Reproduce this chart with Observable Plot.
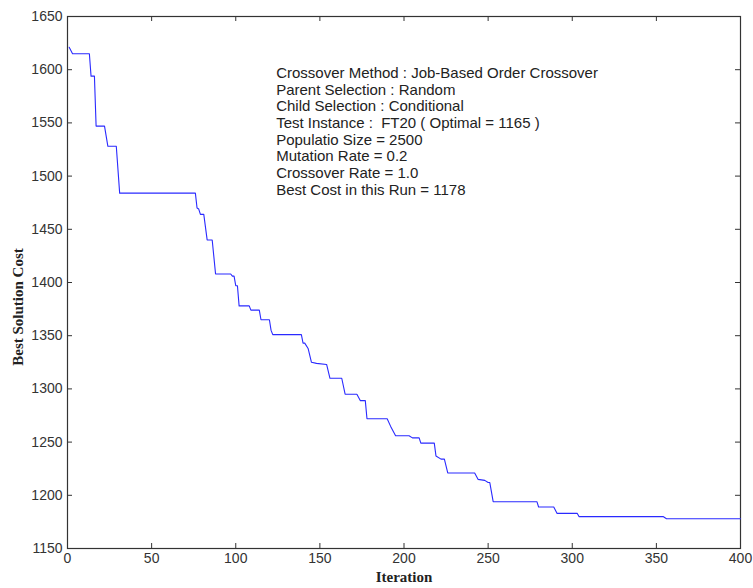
<!DOCTYPE html>
<html>
<head>
<meta charset="utf-8">
<script src="https://cdn.jsdelivr.net/npm/d3@7"></script>
<script src="https://cdn.jsdelivr.net/npm/@observablehq/plot@0.6"></script>
<style>
  html, body { margin: 0; padding: 0; background: #fff; }
  #chart svg { display: block; }
</style>
</head>
<body>
<div id="chart"></div>
<script>
// Corner points of the best-so-far cost curve (iteration, cost)
const iterations = [1, 3, 13, 14, 16, 17, 22, 24, 29, 31, 76, 77, 78, 79, 81, 83, 86, 88, 97, 98, 99, 100, 101, 102,
  108, 109, 114, 115, 120, 121, 122, 139, 140, 141, 143, 145, 148, 154, 156, 163, 165, 172, 174, 177, 178,
  190, 192, 195, 203, 205, 209, 210, 218, 219, 222, 224, 226, 242, 244, 248, 250, 251, 253, 279, 280,
  289, 291, 303, 304, 354, 356, 400];
const costs = [1621, 1615, 1615, 1594, 1594, 1547, 1547, 1528, 1528, 1484, 1484, 1470, 1469, 1464, 1464, 1440, 1440, 1408, 1408, 1406, 1406, 1397, 1397, 1378,
  1378, 1374, 1374, 1365, 1365, 1355, 1351, 1351, 1343, 1343, 1338, 1325, 1324, 1323, 1310, 1310, 1295, 1295, 1289, 1289, 1272,
  1272, 1265, 1256, 1256, 1254, 1254, 1249, 1249, 1237, 1234, 1234, 1221, 1221, 1215, 1214, 1212, 1212, 1194, 1194, 1189,
  1189, 1183, 1183, 1180, 1180, 1178, 1178];

const xTicks = [0, 50, 100, 150, 200, 250, 300, 350, 400];
const yTicks = [1150, 1200, 1250, 1300, 1350, 1400, 1450, 1500, 1550, 1600, 1650];

const annotationLines = [
  "Crossover Method : Job-Based Order Crossover",
  "Parent Selection : Random",
  "Child Selection : Conditional",
  "Test Instance :  FT20 ( Optimal = 1165 )",
  "Populatio Size = 2500",
  "Mutation Rate = 0.2",
  "Crossover Rate = 1.0",
  "Best Cost in this Run = 1178"
];
const xLabel = "Iteration";
const yLabel = "Best Solution Cost";

const data = iterations.map((x, i) => ({x, y: costs[i]}));

const W = 753, H = 588, mT = 16, mB = 40, mL = 67, mR = 13;
const plotW = W - mL - mR, plotH = H - mT - mB, tickLen = 5;
const axisColor = "#333";
const sans = "Liberation Sans, Arial, sans-serif";
const serif = "Liberation Serif, Times New Roman, serif";

const chart = Plot.plot({
  width: W,
  height: H,
  marginTop: mT,
  marginBottom: mB,
  marginLeft: mL,
  marginRight: mR,
  style: {fontFamily: sans, fontSize: "14px", color: axisColor, background: "#fff"},
  x: {domain: [0, 400], ticks: xTicks},
  y: {domain: [1150, 1650], ticks: yTicks},
  marks: [
    // tick labels
    Plot.axisX({anchor: "bottom", ticks: xTicks, tickSize: 0, tickPadding: 5, tickFormat: "d", label: null, fontSize: 14, fill: "#333"}),
    Plot.axisY({anchor: "left", ticks: yTicks, tickSize: 0, tickPadding: 5, tickFormat: "d", label: null, fontSize: 14, fill: "#333"}),
    // inward ticks on all four sides
    Plot.tickX(xTicks, {x: d => d, insetTop: plotH - tickLen, stroke: axisColor}),
    Plot.tickX(xTicks, {x: d => d, insetBottom: plotH - tickLen, stroke: axisColor}),
    Plot.tickY(yTicks, {y: d => d, insetRight: plotW - tickLen, stroke: axisColor}),
    Plot.tickY(yTicks, {y: d => d, insetLeft: plotW - tickLen, stroke: axisColor}),
    Plot.frame({stroke: axisColor, strokeOpacity: 1, strokeWidth: 1.2}),
    Plot.line(data, {x: "x", y: "y", stroke: "#2a2aff", strokeWidth: 1.1}),
    Plot.text([annotationLines.join("\n")], {
      x: () => 124, y: () => 1603, text: d => d,
      textAnchor: "start", lineAnchor: "top", lineHeight: 1.107,
      fontSize: 15, fill: "#222", fontFamily: sans
    }),
    Plot.text([xLabel], {
      frameAnchor: "bottom", dy: 33, text: d => d,
      fontFamily: serif, fontWeight: "bold", fontSize: 15, fill: "#222"
    }),
    Plot.text([yLabel], {
      x: () => 0, y: () => 1377, dx: -49, rotate: -90, text: d => d,
      fontFamily: serif, fontWeight: "bold", fontSize: 15, fill: "#222"
    })
  ]
});

document.getElementById("chart").appendChild(chart);
</script>
</body>
</html>
